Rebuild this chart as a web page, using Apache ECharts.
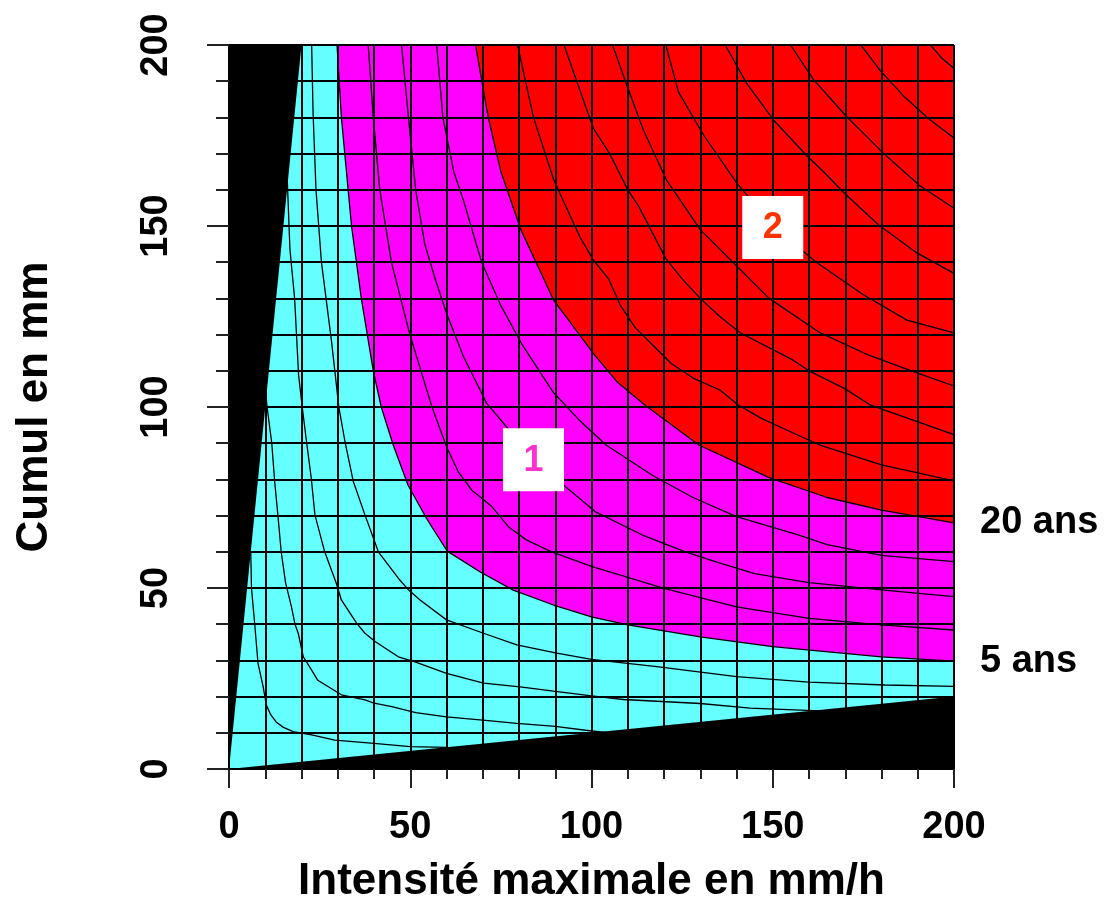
<!DOCTYPE html>
<html><head><meta charset="utf-8">
<script src="https://cdn.jsdelivr.net/npm/echarts@6/dist/echarts.min.js"></script>
<style>html,body{margin:0;padding:0;background:#fff}#c{width:1116px;height:921px}</style>
</head><body><div id="c"></div>
<script>
// ---- data ----
const xTicks = [0, 50, 100, 150, 200];
const yTicks = [0, 50, 100, 150, 200];
const plotArea = [[0,0],[200,0],[200,200],[0,200]];
const blackLeft = [[0,0],[20,200],[0,200]];
const blackBottom = [[0,0],[200,0],[200,20]];

const boundary5ans = [[29.8,200],[31,180],[33.8,150],[36.5,130],[39.8,110],[42,100],[45.3,89.5],[49.4,78.4],[54.5,69.2],[60.2,60.2],[69.2,54.5],[78.4,49.4],[89.5,45.3],[100,42],[110,39.8],[130,36.5],[150,33.8],[180,31],[200,29.8]];
const boundary20ans = [[68,200],[71.5,180],[75,165],[80.5,149],[89.5,129.6],[100.5,114.8],[107,107],[114.8,100.5],[129.6,89.5],[149,80.5],[165,75],[180,71.5],[200,68]];

const contourC1 = [[6,60],[6.2,50],[7.1,40],[8,29.2],[9.4,22.8],[10.3,17.7],[11.5,15],[13,13],[15,11.5],[17.7,10.3],[22.8,9.4],[29.2,8],[40,7.1],[50,6.2],[60,6]];
const contourC2 = [[9.5,110],[10.5,100],[11.8,90],[12.6,79.4],[13.5,70],[14.4,60],[15.6,51.5],[17.2,44.9],[18.2,40],[19.1,37.5],[20.5,31],[22.8,27.3],[24.5,24.5],[27.3,22.8],[31,20.5],[37.5,19.1],[40,18.2],[44.9,17.2],[51.5,15.6],[60,14.4],[70,13.5],[79.4,12.6],[90,11.8],[100,10.5],[110,9.5]];
const contourC3 = [[15.8,170],[16.8,143.7],[18.1,130],[19.2,108.8],[20.2,100],[21.5,89.5],[22.7,80.3],[23.7,70.2],[26.4,60],[29.6,51.3],[31,46.7],[35.2,40.3],[37.5,37.5],[40.3,35.2],[46.7,31],[51.3,29.6],[60,26.4],[70.2,23.7],[80.3,22.7],[89.5,21.5],[100,20.2],[108.8,19.2],[130,18.1],[143.7,16.8],[170,15.8]];
const contourC4 = [[22.8,200],[23.2,181],[24,160],[25.5,140],[28.3,118],[30.3,100],[32,90.4],[34.3,79.4],[37.5,70.2],[41.2,60],[46.7,52.7],[49.5,49.5],[52.7,46.7],[60,41.2],[70.2,37.5],[79.4,34.3],[90.4,32],[100,30.3],[118,28.3],[140,25.5],[160,24],[181,23.2],[200,22.8]];
const contourM1 = [[38.4,200],[39.8,180],[41.6,160],[44.8,140],[49.9,120],[56,100],[60,89],[63.3,82],[67,77],[72.5,72.5],[77,67],[82,63.3],[89,60],[100,56],[120,49.9],[140,44.8],[160,41.6],[180,39.8],[200,38.4]];
const contourM2 = [[47.6,200],[49.5,180],[51.5,160],[54,145],[57,135],[60,125.9],[64.7,113.9],[71.1,101],[77,94],[84.5,84.5],[94,77],[101,71.1],[113.9,64.7],[125.9,60],[135,57],[145,54],[160,51.5],[180,49.5],[200,47.6]];
const contourM3 = [[57.3,200],[59,180],[62,165],[64.7,157],[69.7,140],[75,128],[81,117],[89.5,104],[96.5,96.5],[104,89.5],[117,81],[128,75],[140,69.7],[157,64.7],[165,62],[180,59],[200,57.3]];
const contourR1 = [[79.6,200],[84,180],[89.5,163],[92.2,157],[96.8,147],[100.5,140.6],[104.7,135.4],[108,128],[112,122],[117,117],[122,112],[128,108],[135.4,104.7],[140.6,100.5],[147,96.8],[157,92.2],[163,89.5],[180,84],[200,79.6]];
const contourR2 = [[92.4,200],[100.5,177],[105,170],[110,160],[113,155.5],[120.5,141],[125,135.4],[130,130],[135.4,125],[141,120.5],[155.5,113],[160,110],[170,105],[177,100.5],[200,92.4]];
const contourR3 = [[105.8,200],[109.7,189],[114.3,176.5],[120.7,162.7],[130,149],[139.5,139.5],[149,130],[162.7,120.7],[176.5,114.3],[189,109.7],[200,105.8]];
const contourR4 = [[120.5,200],[124,187],[131,175],[140,162],[150,150],[162,140],[175,131],[187,124],[200,120.5]];
const contourR5 = [[136.9,200],[142.8,189.4],[150.2,179.3],[159.4,169.4],[164.5,164.5],[169.4,159.4],[179.3,150.2],[189.4,142.8],[200,136.9]];
const contourR6 = [[154.9,200],[161.2,190.5],[170.2,180.4],[175.3,175.3],[180.4,170.2],[190.5,161.2],[200,154.9]];
const contourR7 = [[174.3,200],[179.6,193],[186,186],[193,179.6],[200,174.3]];
const contourR8 = [[193.5,200],[196.5,196.5],[200,193.5]];

const zoneLabels = [[84,85.4,'1'],[150,149.6,'2']];
const zoneLabelColors = ['#ff33cc', '#ff3300'];
const returnLabels = [[200,68,'20 ans'],[200,29.8,'5 ans']];

const xName = 'Intensité maximale en mm/h';
const yName = 'Cumul en mm';

// ---- build chart ----
const FONT = "'Liberation Sans', Arial, sans-serif";
const magentaRegion = boundary5ans.concat([[200,200]]);
const redRegion = boundary20ans.concat([[200,200]]);

function polySeries(pts, color, z, smooth) {
  return {
    type: 'custom', z: z, silent: true, animation: false, clip: true,
    data: [[0, 0]],
    renderItem: function (params, api) {
      return {
        type: 'polygon',
        shape: { points: pts.map(function (p) { return api.coord(p); }), smooth: smooth || 0 },
        style: { fill: color, stroke: null, lineWidth: 0 }
      };
    }
  };
}
function lineSeries(pts) {
  return {
    type: 'line', data: pts, z: 2, silent: true, animation: false,
    symbol: 'none', showSymbol: false, clip: true, smooth: false,
    lineStyle: { color: '#000', width: 1.3 }
  };
}

const contours = [contourC1, contourC2, contourC3, contourC4, boundary5ans,
  contourM1, contourM2, contourM3, boundary20ans,
  contourR1, contourR2, contourR3, contourR4, contourR5, contourR6, contourR7, contourR8];

const series = [
  polySeries(plotArea, '#66ffff', 1),
  polySeries(magentaRegion, '#ff00ff', 1),
  polySeries(redRegion, '#ff0000', 1)
].concat(contours.map(lineSeries)).concat([
  polySeries(blackLeft, '#000', 3),
  polySeries(blackBottom, '#000', 3),
  {
    type: 'custom', z: 6, silent: true, animation: false, clip: false,
    data: zoneLabels,
    renderItem: function (params, api) {
      const c = api.coord([api.value(0), api.value(1)]);
      const i = params.dataIndex;
      return {
        type: 'group',
        children: [
          { type: 'rect', shape: { x: c[0] - 30.5, y: c[1] - 31.5, width: 61, height: 63 }, style: { fill: '#fff' } },
          { type: 'text', x: c[0], y: c[1] + 1, style: { text: zoneLabels[i][2], fill: zoneLabelColors[i],
            font: 'bold 36px ' + FONT, align: 'center', verticalAlign: 'middle' } }
        ]
      };
    }
  },
  {
    type: 'custom', z: 6, silent: true, animation: false, clip: false,
    data: returnLabels,
    renderItem: function (params, api) {
      const c = api.coord([api.value(0), api.value(1)]);
      return { type: 'text', x: c[0] + 26, y: c[1],
        style: { text: returnLabels[params.dataIndex][2], fill: '#000',
          font: 'bold 38px ' + FONT, align: 'left', verticalAlign: 'middle' } };
    }
  }
]);

function axisCommon(ticks, isY) {
  return {
    type: 'value', min: ticks[0], max: ticks[ticks.length - 1], interval: ticks[1] - ticks[0], z: 4,
    axisLine: { show: false },
    axisTick: { show: true, length: isY ? 22 : 19, lineStyle: { color: '#222', width: 2 } },
    minorTick: { show: true, splitNumber: 5, length: isY ? 13 : 10, lineStyle: { color: '#222', width: 2 } },
    splitLine: { show: true, lineStyle: { color: '#000', width: 2 } },
    minorSplitLine: { show: true, lineStyle: { color: '#000', width: 2 } },
    axisLabel: {
      show: true, color: '#000', fontSize: 38, fontWeight: 'bold', fontFamily: FONT,
      margin: isY ? 53 : 40, rotate: isY ? 90 : 0,
      formatter: function (v) { const k = ticks.indexOf(v); return k >= 0 ? String(ticks[k]) : ''; }
    },
    name: isY ? yName : xName, nameLocation: 'middle', nameGap: isY ? 172 : 91,
    nameTextStyle: { color: '#000', fontSize: 44, fontWeight: 'bold', fontFamily: FONT }
  };
}

const chart = echarts.init(document.getElementById('c'), null, { renderer: 'canvas' });
chart.setOption({
  animation: false,
  backgroundColor: '#fff',
  grid: { left: 229, top: 45, width: 725, height: 724, containLabel: false, show: false },
  xAxis: axisCommon(xTicks, false),
  yAxis: axisCommon(yTicks, true),
  series: series
});
</script></body></html>
